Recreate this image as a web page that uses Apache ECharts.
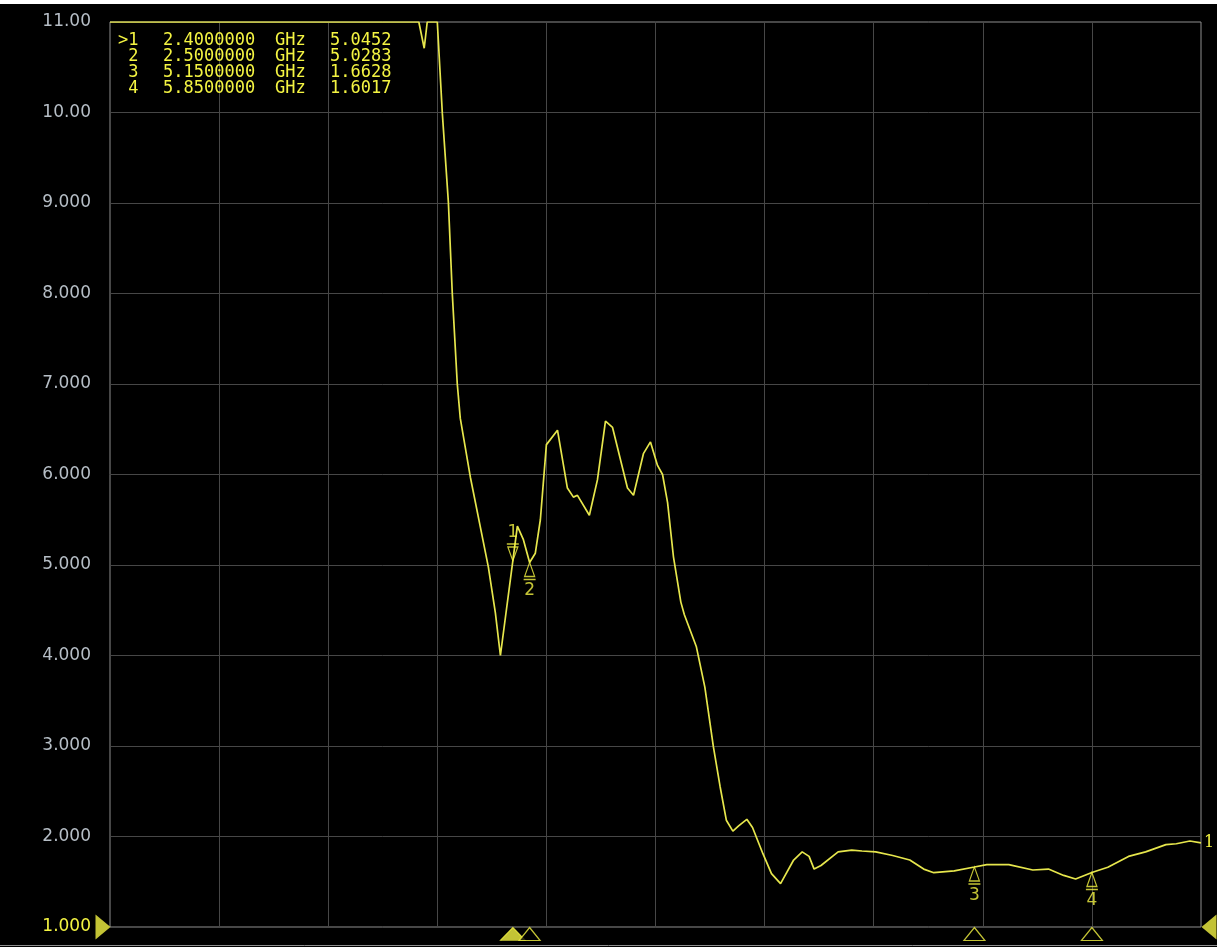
<!DOCTYPE html>
<html>
<head>
<meta charset="utf-8">
<title>SWR trace</title>
<script src="https://cdn.jsdelivr.net/npm/echarts@6/dist/echarts.min.js"></script>
<style>
html, body { margin: 0; padding: 0; background: #000; }
#main { width: 1217px; height: 947px; }
</style>
</head>
<body>
<div id="main"></div>
<script>
// trace (GHz / SWR), above 11 the analyzer pins it to the top
var freqGHz = [0, 1.84, 1.872, 1.89, 1.95, 1.98, 2.016, 2.039, 2.069, 2.087, 2.147, 2.254, 2.296, 2.326,
    2.4, 2.427, 2.463, 2.5, 2.534, 2.564, 2.6, 2.666, 2.725, 2.761, 2.785, 2.856, 2.904, 2.952, 2.994,
    3.083, 3.119, 3.178, 3.22, 3.262, 3.292, 3.322, 3.357, 3.401, 3.422, 3.493, 3.544, 3.595, 3.635,
    3.672, 3.711, 3.747, 3.794, 3.828, 3.89, 3.941, 3.995, 4.073, 4.124, 4.165, 4.195, 4.236, 4.338,
    4.419, 4.48, 4.562, 4.663, 4.765, 4.848, 4.908, 5.03, 5.15, 5.224, 5.355, 5.498, 5.591, 5.682,
    5.753, 5.85, 5.945, 6.068, 6.17, 6.291, 6.353, 6.434, 6.5];
var swr = [11, 11, 10.71, 11, 11, 9.99, 9.01, 8.01, 7.0, 6.62, 5.97, 4.98, 4.47, 4.0,
    5.0452, 5.43, 5.28, 5.0283, 5.13, 5.5, 6.33, 6.49, 5.85, 5.75, 5.77, 5.55, 5.94, 6.59, 6.52,
    5.85, 5.77, 6.23, 6.36, 6.1, 6.0, 5.69, 5.09, 4.59, 4.45, 4.10, 3.65, 2.99, 2.55,
    2.18, 2.06, 2.12, 2.19, 2.10, 1.81, 1.59, 1.48, 1.74, 1.83, 1.78, 1.64, 1.68, 1.83,
    1.85, 1.84, 1.83, 1.79, 1.74, 1.64, 1.60, 1.62, 1.6628, 1.69, 1.69, 1.63, 1.64, 1.57,
    1.53, 1.6017, 1.66, 1.78, 1.83, 1.91, 1.92, 1.95, 1.93];

var markerNames = ['1', '2', '3', '4'];
var markerFreqs = [2.4, 2.5, 5.15, 5.85];
var markerVals = [5.0452, 5.0283, 1.6628, 1.6017];
var activeMarker = 0;

var xMin = 0, xMax = 6.5, xStep = 0.65;
var yMin = 1, yMax = 11, yStep = 1;

var yellow = '#f4f442';
var traceColor = '#e6e64c';
var monoFont = '17px "DejaVu Sans Mono", monospace';

var chart = echarts.init(document.getElementById('main'));

var traceData = freqGHz.map(function (f, i) { return [f, swr[i]]; });

var markerData = markerFreqs.map(function (f, i) {
    var active = i === activeMarker;
    return {
        value: [f, markerVals[i]],
        symbol: active ? 'path://M0,0L12,0M1,3L11,3L6,17Z' : 'path://M6,0L11,14L1,14ZM0,17L12,17',
        symbolOffset: active ? [0, -8.5] : [0, 8.5],
        label: { position: active ? 'top' : 'bottom', distance: 2, formatter: markerNames[i] }
    };
});

var axisMarkData = markerFreqs.map(function (f, i) {
    var active = i === activeMarker;
    return {
        value: [f, yMin],
        symbolSize: active ? [25, 13] : [21, 13],
        itemStyle: active ? { color: yellow, borderColor: yellow } : { color: '#000', borderColor: yellow, borderWidth: 1.2 }
    };
});

// marker table at top left
var tableText = [];
markerNames.forEach(function (n, i) {
    var y = 41 + i * 16;
    var cols = [
        [118, (i === activeMarker ? '>' : ' ') + n],
        [163, markerFreqs[i].toFixed(7)],
        [275, 'GHz'],
        [330, markerVals[i].toFixed(4)]
    ];
    cols.forEach(function (c) {
        tableText.push({
            type: 'text', z: 100,
            style: { x: c[0], y: y, text: c[1], fill: yellow, font: monoFont, verticalAlign: 'middle' }
        });
    });
});

option = {
    backgroundColor: '#000',
    animation: false,
    grid: {
        left: 110, right: 16, top: 22, bottom: 20,
        show: true, borderColor: '#8e8e8e', borderWidth: 1, backgroundColor: '#000'
    },
    xAxis: {
        type: 'value', min: xMin, max: xMax, interval: xStep,
        axisLine: { show: false }, axisTick: { show: false }, axisLabel: { show: false },
        splitLine: { show: true, showMinLine: false, showMaxLine: false, lineStyle: { color: '#474747', width: 1 } }
    },
    yAxis: {
        type: 'value', min: yMin, max: yMax, interval: yStep,
        axisLine: { show: false }, axisTick: { show: false },
        axisLabel: {
            margin: 19,
            color: '#b6bec6',
            fontFamily: 'DejaVu Sans',
            fontSize: 17,
            formatter: function (v) {
                if (v === yMin) return '{ref|' + v.toFixed(3) + '}';
                return v >= 10 ? v.toFixed(2) : v.toFixed(3);
            },
            rich: { ref: { color: yellow, fontFamily: 'DejaVu Sans', fontSize: 17 } }
        },
        splitLine: { show: true, showMinLine: false, showMaxLine: false, lineStyle: { color: '#474747', width: 1 } }
    },
    series: [{
        name: 'trace',
        type: 'line',
        data: traceData,
        showSymbol: false,
        lineStyle: { color: traceColor, width: 1.7 },
        endLabel: {
            show: true, formatter: '1', color: yellow, distance: 3,
            fontFamily: 'DejaVu Serif', fontSize: 16
        },
        z: 3
    }, {
        name: 'markers',
        type: 'scatter',
        data: markerData,
        symbolSize: [12, 17],
        clip: false,
        itemStyle: { color: 'rgba(0,0,0,0)', borderColor: yellow, borderWidth: 1.3 },
        label: { show: true, color: yellow, fontFamily: 'DejaVu Sans', fontSize: 17 },
        z: 5
    }, {
        name: 'axisMarkers',
        type: 'scatter',
        data: axisMarkData,
        symbol: 'triangle',
        symbolOffset: [0, 7],
        clip: false,
        z: 6
    }, {
        name: 'refLevel',
        type: 'scatter',
        data: [{ value: [xMin, yMin], symbolRotate: -90, symbolOffset: [-7, 0] },
               { value: [xMax, yMin], symbolRotate: 90, symbolOffset: [8, 0] }],
        symbol: 'triangle',
        symbolSize: [25, 15],
        clip: false,
        itemStyle: { color: yellow },
        z: 6
    }],
    graphic: [{
        type: 'rect', z: 100, shape: { x: 0, y: 0, width: 1217, height: 4 }, style: { fill: '#fff' }
    }, {
        type: 'line', z: 100, shape: { x1: 0, y1: 945.5, x2: 1217, y2: 945.5 }, style: { stroke: '#8e8e8e', lineWidth: 1 }
    }].concat(tableText)
};

chart.setOption(option);
</script>
</body>
</html>
